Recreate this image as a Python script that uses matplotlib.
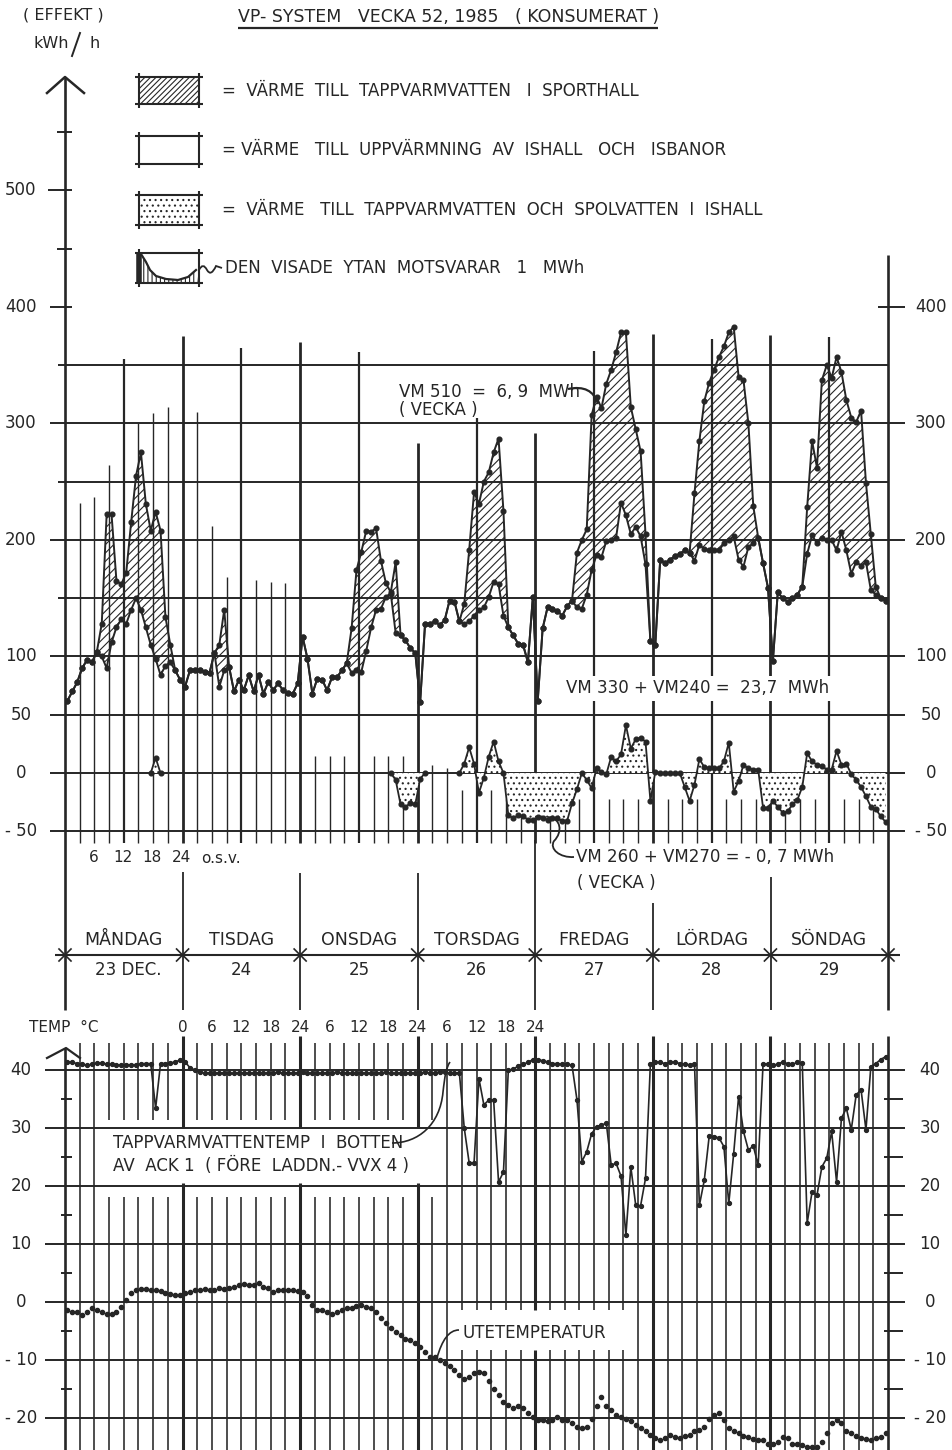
import numpy as np
import matplotlib
matplotlib.use("Agg")
import matplotlib.pyplot as plt
from matplotlib.path import Path
from matplotlib.patches import PathPatch, Polygon

# ======================= DATA =======================
days = ["MÅNDAG", "TISDAG", "ONSDAG", "TORSDAG", "FREDAG", "LÖRDAG", "SÖNDAG"]
dates = ["23 DEC.", "24", "25", "26", "27", "28", "29"]

# VM330 + VM240 : heat to ice hall / rinks, kWh/h, hourly values Mon 00 -> Sun 24
ice_heat_mon = [62, 70, 78, 90, 97, 95, 104, 100, 90, 112, 125, 132, 128, 140, 150, 140, 125, 110, 98, 84, 92, 95, 88, 80]
ice_heat_tue = [74, 88, 88, 88, 87, 86, 103, 74, 88, 91, 70, 80, 71, 84, 70, 84, 68, 78, 71, 77, 71, 69, 68, 77]
ice_heat_wed = [117, 98, 68, 81, 80, 71, 82, 82, 88, 94, 86, 88, 87, 105, 125, 140, 141, 151, 154, 120, 118, 114, 107, 103]
ice_heat_thu = [61, 128, 128, 130, 127, 131, 148, 147, 130, 128, 130, 135, 140, 142, 151, 164, 162, 135, 125, 118, 111, 110, 95, 151]
ice_heat_fri = [62, 124, 142, 141, 139, 135, 143, 148, 142, 141, 153, 174, 187, 185, 199, 200, 202, 232, 221, 205, 211, 203, 179, 113]
ice_heat_sat = [110, 183, 180, 183, 186, 188, 191, 189, 182, 196, 192, 191, 191, 191, 197, 200, 203, 183, 177, 194, 197, 202, 180, 159]
ice_heat_sun = [96, 155, 150, 147, 150, 153, 160, 188, 204, 197, 202, 200, 200, 191, 207, 191, 171, 181, 178, 181, 157, 153, 150, 148]

# Upper curve (incl. VM510 tap water to sport hall), given where it differs: start hour -> values
sport_total_segments = {
    6: [104, 128, 222, 222, 165, 162, 172, 215, 255, 275, 231, 208, 224, 208, 134, 110, 88],
    30: [103, 110, 140, 91],
    57: [94, 124, 174, 190, 208, 207, 210, 182, 163, 155, 181, 118],
    80: [130, 145, 191, 241, 231, 250, 258, 275, 287, 225, 125],
    104: [189, 200, 209, 307, 323, 313, 334, 346, 361, 378, 378, 314, 295, 276, 205, 113],
    128: [240, 285, 319, 335, 346, 357, 366, 378, 383, 340, 337, 300, 229, 202],
    151: [228, 285, 262, 337, 350, 339, 357, 344, 320, 305, 301, 311, 249, 205, 160, 150],
}

# VM260 + VM270 : tap water and flood water ice hall (kWh/h), start hour -> values
ice_tap_segments = {
    17: [0, 13, 0],
    66: [0, -6, -27, -29, -26, -27, -5, 0],
    80: [0, 8, 22, 8, -17, -4, 14, 27, 10, 0, -36, -39, -36, -37, -40, -40,
         -38, -39, -40, -39, -39, -41, -41, -26, -14, 0, -6, -13, 4, 1, -1, 14, 10, 16, 41, 21, 29, 30, 27, -24,
         1, 0, 0, 0, 0, 0, -12, -24, -10, 12, 5, 4, 4, 4, 10, 26, -16, -7, 7, 4, 3, 3, -30, -30,
         -24, -29, -34, -33, -27, -23, -12, 17, 10, 7, 6, 3, 3, 19, 7, 8, -1, -6, -12, -20, -29, -31, -37, -42],
}

# Tap water temperature at bottom of ACK 1 (°C), hourly
tap_temp_mon = [41.4, 41.3, 41.1, 41.0, 40.8, 41.0, 41.2, 41.2, 41.0, 41.0, 40.8, 40.9, 40.9, 40.9, 40.9, 41.1, 41.1, 41.1, 33.4, 41.1, 41.1, 41.2, 41.4, 41.7]
tap_temp_tue = [41.4, 40.4, 40.0, 39.6, 39.5, 39.5, 39.4, 39.5, 39.5, 39.4, 39.4, 39.5, 39.5, 39.4, 39.5, 39.5, 39.4, 39.5, 39.5, 39.6, 39.5, 39.5, 39.4, 39.5]
tap_temp_wed = [39.6, 39.5, 39.5, 39.4, 39.5, 39.5, 39.5, 39.6, 39.5, 39.5, 39.4, 39.5, 39.5, 39.5, 39.4, 39.5, 39.5, 39.6, 39.5, 39.4, 39.5, 39.5, 39.5, 39.4]
tap_temp_thu = [39.5, 39.6, 39.5, 39.5, 39.7, 39.6, 39.5, 39.5, 39.5, 30.0, 24.0, 24.0, 38.5, 34.0, 34.8, 34.8, 20.7, 22.4, 40.0, 40.1, 40.7, 41.0, 41.3, 41.8]
tap_temp_fri = [41.8, 41.6, 41.4, 41.1, 41.1, 41.0, 41.0, 40.8, 34.9, 24.2, 25.9, 29.0, 30.2, 30.5, 30.8, 23.6, 23.9, 21.7, 11.5, 23.3, 16.7, 16.6, 21.3, 41.1]
tap_temp_sat = [41.4, 41.3, 41.1, 41.3, 41.4, 41.1, 41.0, 40.9, 41.0, 16.7, 21.0, 28.6, 28.5, 28.3, 26.8, 17.0, 25.6, 35.4, 29.4, 26.2, 26.9, 23.6, 41.1, 41.0]
tap_temp_sun = [40.8, 41.0, 41.4, 41.1, 41.0, 41.3, 41.2, 13.6, 19.0, 18.4, 23.3, 24.8, 29.4, 20.7, 31.7, 33.4, 29.7, 35.7, 36.6, 29.7, 40.6, 41.1, 41.8, 42.3]

# Outdoor temperature (°C), hourly
out_temp_mon = [-1.4, -1.7, -1.8, -2.2, -1.7, -1.1, -1.4, -1.7, -2.1, -2.0, -1.7, -0.8, 0.3, 1.5, 2.1, 2.2, 2.2, 2.1, 2.1, 1.9, 1.6, 1.4, 1.2, 1.2]
out_temp_tue = [1.6, 1.8, 2.1, 2.1, 2.2, 2.1, 2.1, 2.4, 2.2, 2.4, 2.6, 2.9, 3.1, 2.9, 2.9, 3.2, 2.6, 2.4, 1.8, 2.1, 2.1, 2.1, 2.1, 1.9]
out_temp_wed = [1.8, 1.0, -0.5, -1.4, -1.4, -1.7, -2.0, -1.7, -1.4, -1.1, -1.1, -0.7, -0.5, -0.8, -1.1, -1.7, -2.8, -3.7, -4.5, -5.1, -5.7, -6.3, -6.6, -7.1]
out_temp_thu = [-7.7, -8.6, -9.4, -9.4, -10.0, -10.6, -11.1, -11.7, -12.6, -13.2, -12.9, -12.3, -12.0, -12.3, -13.7, -15.0, -16.0, -17.2, -17.8, -18.3, -17.9, -18.3, -19.2, -19.8]
out_temp_fri = [-20.3, -20.4, -20.6, -20.3, -19.9, -20.4, -20.3, -20.9, -21.5, -21.8, -21.5, -20.1, -18.0, -16.3, -18.0, -18.6, -19.5, -19.9, -20.2, -20.6, -21.2, -21.8, -22.3, -22.9]
out_temp_sat = [-23.5, -23.8, -23.5, -22.9, -23.2, -23.5, -23.1, -22.9, -22.3, -22.1, -21.5, -20.1, -19.5, -19.2, -20.3, -21.8, -22.3, -22.6, -23.1, -23.3, -23.7, -23.8, -23.8, -24.4]
out_temp_sun = [-24.4, -24.1, -23.2, -23.5, -24.4, -24.5, -24.7, -25.0, -25.0, -25.0, -24.1, -22.6, -20.9, -20.3, -20.9, -22.2, -22.6, -23.1, -23.5, -23.7, -23.8, -23.5, -23.2, -22.6]

power_left_ticks = [500, 400, 300, 200, 100, 50, 0, -50]
power_right_ticks = [400, 300, 200, 100, 50, 0, -50]
temp_ticks = [40, 30, 20, 10, 0, -10, -20]
top_hour_labels = ["6", "12", "18", "24"]
bottom_hour_labels = ["0", "6", "12", "18", "24", "6", "12", "18", "24", "6", "12", "18", "24"]

# ======================= STYLE / LAYOUT =======================
INK = "#262626"
plt.rcParams["font.family"] = ["DejaVu Sans"]
plt.rcParams["hatch.color"] = INK
plt.rcParams["hatch.linewidth"] = 0.8
plt.rcParams["text.color"] = INK

W_PX, H_PX = 953, 1450
X0, X1 = 65.0, 888.0
HPX = (X1 - X0) / 168.0


def h_of(px):
    return (px - X0) / HPX


def p_py(v):
    return 773.0 - 1.1655 * v


def t_py(t):
    return 1302.0 - 5.8 * t


def rect(x0, y0, x1, y1):
    return [x0 / W_PX, 1 - y1 / H_PX, (x1 - x0) / W_PX, (y1 - y0) / H_PX]


def fmt(v):
    return "- %d" % abs(v) if v < 0 else "%d" % v


fig = plt.figure(figsize=(W_PX / 100, H_PX / 100), dpi=100)
fig.patch.set_facecolor("white")

P_LO, P_HI = -75, 600
axp = fig.add_axes(rect(X0, p_py(P_HI), X1, p_py(P_LO)))
axp.set_xlim(0, 168)
axp.set_ylim(P_LO, P_HI)
axp.axis("off")

T_LO, T_HI = -25.5, 47
axt = fig.add_axes(rect(X0, t_py(T_HI), X1, t_py(T_LO)))
axt.set_xlim(0, 168)
axt.set_ylim(T_LO, T_HI)
axt.axis("off")

ov = fig.add_axes([0, 0, 1, 1], zorder=5)
ov.set_xlim(0, W_PX)
ov.set_ylim(H_PX, 0)
ov.axis("off")

hour_mid = np.arange(168) + 0.5

# ---------- build series ----------
ice_heat = np.array(ice_heat_mon + ice_heat_tue + ice_heat_wed + ice_heat_thu +
                    ice_heat_fri + ice_heat_sat + ice_heat_sun, float)
sport_total = ice_heat.copy()
for k0, vals in sport_total_segments.items():
    sport_total[k0:k0 + len(vals)] = vals
ice_tap = np.full(168, np.nan)
for k0, vals in ice_tap_segments.items():
    ice_tap[k0:k0 + len(vals)] = vals[:168 - k0]
tap_temp = np.array(tap_temp_mon + tap_temp_tue + tap_temp_wed + tap_temp_thu +
                    tap_temp_fri + tap_temp_sat + tap_temp_sun, float)
out_temp = np.array(out_temp_mon + out_temp_tue + out_temp_wed + out_temp_thu +
                    out_temp_fri + out_temp_sat + out_temp_sun, float)

LK = dict(color=INK, solid_capstyle="butt", clip_on=False)

# ======================= POWER PANEL =======================
for v in [350, 250, 150]:
    axp.plot([h_of(58), 168], [v, v], lw=1.4, zorder=1, **LK)
for v in [300, 200, 100, 50, 0, -50]:
    axp.plot([h_of(50), h_of(905)], [v, v], lw=1.4, zorder=1, **LK)
axp.plot([h_of(48), h_of(72)], [500, 500], lw=1.4, **LK)
for v in [550, 450]:
    axp.plot([h_of(57), h_of(72)], [v, v], lw=1.4, **LK)
axp.plot([h_of(50), h_of(72)], [400, 400], lw=1.4, **LK)
axp.plot([h_of(878), h_of(905)], [400, 400], lw=1.4, **LK)

# vertical 3-hour lines (hand-drawn lengths)
vline_tops = [None, 232, 237, 264, 355, 300, 309, 314, 375, 310, 212, 168, 365, 166, 164, 163, 370,
              15, 15, 15, 361, 15, 15, 15, 283, 7, 4, -15, 305, -15, -22, -22, 292,
              -22, -22, -22, 362, -22, -22, -22, 377, -22, -22, -22, 372, -22, -22, -22, 376,
              -22, -22, -22, 374, -22, -22, -22, None]
for i in range(1, 56):
    lw = 2.0 if i % 8 == 0 else (1.6 if i % 4 == 0 else 1.0)
    axp.plot([3 * i, 3 * i], [-60, vline_tops[i]], lw=lw, zorder=1, **LK)

# hatched : sport hall tap water
axp.fill_between(hour_mid, ice_heat, sport_total, facecolor="none", edgecolor=INK,
                 hatch="////", linewidth=0, zorder=2)
# stippled : ice hall tap / flood water
axp.fill_between(hour_mid, 0, ice_tap, facecolor="white", edgecolor=INK,
                 hatch="...", linewidth=0, zorder=3)

mk = dict(marker="o", ms=3.4, mfc=INK, mec=INK, color=INK, zorder=4)
axp.plot(hour_mid, ice_heat, lw=1.4, **mk)
axp.plot(hour_mid, sport_total, lw=1.4, **mk)
axp.plot(hour_mid, ice_tap, lw=1.3, **mk)

for v in power_left_ticks:
    axp.text(h_of(21), v, fmt(v), ha="center", va="center", fontsize=12, clip_on=False)
for v in power_right_ticks:
    axp.text(h_of(931), v, fmt(v), ha="center", va="center", fontsize=12, clip_on=False)

for j, lab in enumerate(top_hour_labels):
    ov.text(X0 + HPX * 6 * (j + 1) - 1, 857, lab, ha="center", va="center", fontsize=11)
ov.text(221, 858, "o.s.v.", ha="center", va="center", fontsize=11)

# ======================= TEMPERATURE PANEL =======================
for t in temp_ticks:
    axt.plot([h_of(45), h_of(905)], [t, t], lw=1.4, zorder=1, **LK)
for t in [35, 25, 15, 5, -5, -15]:
    axt.plot([h_of(61), h_of(72)], [t, t], lw=1.4, **LK)
    axt.plot([h_of(884), h_of(903)], [t, t], lw=1.4, **LK)

for i in range(1, 56):
    heavy = i % 8 == 0
    top = 45.9 if heavy else 44.7
    lw = 2.2 if heavy else 1.15
    segs = [(top, T_LO)]
    if 3 <= i <= 25:
        g = (30.0, 20.5) if heavy else (31.4, 18.1)
        segs = [(top, g[0]), (g[1], T_LO)]
    if 27 <= i <= 38:
        new = []
        for a, b in segs:
            if a > -1.4 > b:
                new += [(a, -1.4), (-8.3, b)]
            else:
                new.append((a, b))
        segs = new
    for a, b in segs:
        axt.plot([3 * i, 3 * i], [a, b], lw=lw, zorder=1, **LK)

axt.plot(hour_mid, tap_temp, lw=1.2, marker="o", ms=2.8, color=INK, mfc=INK, mec=INK, zorder=4)
axt.plot(hour_mid, out_temp, lw=0, marker="o", ms=3.0, color=INK, mfc=INK, mec=INK, zorder=4)

for t in temp_ticks:
    axt.text(h_of(21), t, fmt(t), ha="center", va="center", fontsize=12, clip_on=False)
    axt.text(h_of(930), t, fmt(t), ha="center", va="center", fontsize=12, clip_on=False)

for j, lab in enumerate(bottom_hour_labels):
    ov.text(X0 + HPX * (24 + 6 * j), 1027, lab, ha="center", va="center", fontsize=11)
ov.text(64, 1027, "TEMP  °C", ha="center", va="center", fontsize=11)

# ======================= OVERLAY DECORATIONS =======================
OL = dict(color=INK, solid_capstyle="butt")
ov.plot([X0, X0], [77, 1010], lw=1.9, **OL)
ov.plot([X1, X1], [255, 1010], lw=1.9, **OL)
ov.plot([47, X0, 84], [93, 77, 93], lw=1.8, color=INK)
ov.plot([X0, X0], [1048, 1450], lw=1.9, **OL)
ov.plot([X1, X1], [1036, 1450], lw=1.9, **OL)
ov.plot([47, X0 + 1, 80], [1058, 1048, 1058], lw=1.6, color=INK)

# table of days
ov.plot([55, 900], [955, 955], lw=1.5, **OL)
for d in range(8):
    x = X0 + HPX * 24 * d
    ov.plot([x - 6, x + 6], [949, 961], lw=1.2, color=INK)
    ov.plot([x - 6, x + 6], [961, 949], lw=1.2, color=INK)
for x, y0 in [(183, 872), (300, 873), (418, 873), (535, 840), (653, 903), (771, 877)]:
    ov.plot([x, x], [y0, 1010], lw=1.3, **OL)
for d in range(7):
    xc = X0 + HPX * (24 * d + 12)
    ov.text(xc, 940, days[d], ha="center", va="center", fontsize=12.5)
    ov.text(xc + (4 if d == 0 else 0), 970, dates[d], ha="center", va="center", fontsize=12)

# title
ov.text(23, 15, "( EFFEKT )", ha="left", va="center", fontsize=11.5)
ov.text(34, 43, "kWh", ha="left", va="center", fontsize=11.5)
ov.plot([72, 80], [56, 33], lw=1.4, color=INK)
ov.text(90, 43, "h", ha="left", va="center", fontsize=11.5)
ov.text(238, 17, "VP- SYSTEM   VECKA 52, 1985   ( KONSUMERAT )", ha="left", va="center", fontsize=12.5)
ov.plot([238, 658], [28, 28], lw=1.6, **OL)


def draft_box(x0, y0, x1, y1):
    e = 4
    ov.plot([x0 - e, x1 + e], [y0, y0], lw=1.5, **OL)
    ov.plot([x0 - e, x1 + e], [y1, y1], lw=1.5, **OL)
    ov.plot([x0, x0], [y0 - e, y1 + e], lw=1.5, **OL)
    ov.plot([x1, x1], [y0 - e, y1 + e], lw=1.5, **OL)


bx0, bx1 = 139, 199
draft_box(bx0, 77, bx1, 104)
ov.add_patch(Polygon([(bx0, 77), (bx1, 77), (bx1, 104), (bx0, 104)], closed=True,
                     facecolor="none", edgecolor=INK, hatch="//////", lw=0))
draft_box(bx0, 136, bx1, 164)
draft_box(bx0, 195, bx1, 225)
ov.add_patch(Polygon([(bx0, 195), (bx1, 195), (bx1, 225), (bx0, 225)], closed=True,
                     facecolor="none", edgecolor=INK, hatch="...", lw=0))
draft_box(bx0, 253, bx1, 283)
glyph = [(141, 283), (141, 254), (146, 262), (150, 270), (156, 276), (166, 279), (178, 280),
         (188, 277), (196, 270), (198, 283)]
ov.add_patch(Polygon(glyph, closed=True, facecolor="none", edgecolor=INK, hatch="||||", lw=0))
ov.plot([p[0] for p in glyph[1:-1]], [p[1] for p in glyph[1:-1]], lw=1.6, color=INK)
ov.plot([139.5, 139.5], [253, 283], lw=4, **OL)
sq = Path([(199, 270), (203, 262), (207, 270), (211, 277), (216, 266), (222, 268)],
          [Path.MOVETO, Path.CURVE3, Path.CURVE3, Path.CURVE3, Path.CURVE3, Path.LINETO])
ov.add_patch(PathPatch(sq, facecolor="none", edgecolor=INK, lw=1.3))

LEG_FS = 12
ov.text(222, 91, "=  VÄRME  TILL  TAPPVARMVATTEN   I  SPORTHALL", ha="left", va="center", fontsize=LEG_FS)
ov.text(222, 150, "= VÄRME   TILL  UPPVÄRMNING  AV  ISHALL   OCH   ISBANOR", ha="left", va="center", fontsize=LEG_FS)
ov.text(222, 210, "=  VÄRME   TILL  TAPPVARMVATTEN  OCH  SPOLVATTEN  I  ISHALL", ha="left", va="center", fontsize=LEG_FS)
ov.text(225, 268, "DEN  VISADE  YTAN  MOTSVARAR   1   MWh", ha="left", va="center", fontsize=LEG_FS)

WHITE_BG = dict(facecolor="white", edgecolor="none", pad=2.5)

# annotations, power panel
ov.text(399, 392, "VM 510  =  6, 9  MWh", ha="left", va="center", fontsize=12)
ov.text(399, 410, "( VECKA )", ha="left", va="center", fontsize=12)
p1 = Path([(568, 389), (592, 384), (598, 404)], [Path.MOVETO, Path.CURVE3, Path.CURVE3])
ov.add_patch(PathPatch(p1, facecolor="none", edgecolor=INK, lw=1.6))
ov.text(566, 688, "VM 330 + VM240 =  23,7  MWh", ha="left", va="center", fontsize=12, bbox=WHITE_BG)
ov.text(576, 857, "VM 260 + VM270 = - 0, 7 MWh", ha="left", va="center", fontsize=12)
ov.text(577, 883, "( VECKA )", ha="left", va="center", fontsize=12)
p2 = Path([(548, 817), (561, 818), (563, 832), (554, 841), (549, 849), (560, 858), (574, 857)],
          [Path.MOVETO, Path.CURVE4, Path.CURVE4, Path.CURVE4, Path.CURVE4, Path.CURVE4, Path.CURVE4])
ov.add_patch(PathPatch(p2, facecolor="none", edgecolor=INK, lw=1.3))

# annotations, temperature panel
ov.text(113, 1143, "TAPPVARMVATTENTEMP  I  BOTTEN", ha="left", va="center", fontsize=12)
ov.text(113, 1166, "AV  ACK 1  ( FÖRE  LADDN.- VVX 4 )", ha="left", va="center", fontsize=12)
p3 = Path([(392, 1143), (418, 1143), (440, 1125), (443, 1092), (445, 1075), (446, 1068), (450, 1062)],
          [Path.MOVETO, Path.CURVE4, Path.CURVE4, Path.CURVE4, Path.CURVE4, Path.CURVE4, Path.CURVE4])
ov.add_patch(PathPatch(p3, facecolor="none", edgecolor=INK, lw=1.2))
ov.text(463, 1333, "UTETEMPERATUR", ha="left", va="center", fontsize=12)
p4 = Path([(459, 1330), (449, 1330), (442, 1340), (437, 1358)],
          [Path.MOVETO, Path.CURVE4, Path.CURVE4, Path.CURVE4])
ov.add_patch(PathPatch(p4, facecolor="none", edgecolor=INK, lw=1.2))

fig.savefig("out.png", dpi=100, facecolor="white")
